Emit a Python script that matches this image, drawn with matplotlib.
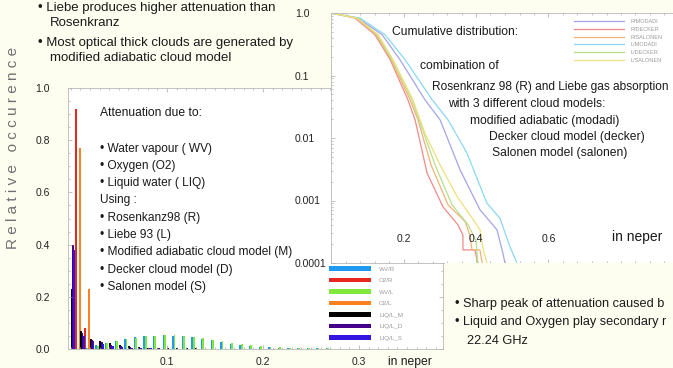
import matplotlib
matplotlib.use('Agg')
import matplotlib.pyplot as plt
import numpy as np
from matplotlib import font_manager as fm
from matplotlib.ticker import MultipleLocator, NullFormatter, FixedLocator, LogLocator
from matplotlib.patches import Rectangle

W, H = 673, 368
BG = '#fefef0'
fams = {f.name for f in fm.fontManager.ttflist}
NARROW = 'Liberation Sans Narrow' if 'Liberation Sans Narrow' in fams else 'Liberation Sans'
SANS = 'Liberation Sans'

# ---------------- histogram data (relative occurrence per 0.01 neper bin) ----------------
bin_width = 0.01
hist_names = ['WV/R', 'O2/R', 'WV/L', 'O2/L', 'LIQ/L_M', 'LIQ/L_D', 'LIQ/L_S']
hist_colors = ['#1e9bf0', '#e8281c', '#80e838', '#ff8020', '#000000', '#440088', '#3414e0']
slot_order = ['LIQ/L_M', 'LIQ/L_D', 'LIQ/L_S', 'O2/R', 'WV/R', 'WV/L', 'O2/L']

wv_r = [0.0, 0.004, 0.015, 0.024, 0.032, 0.040, 0.045, 0.048, 0.050, 0.052, 0.051, 0.049,
        0.046, 0.040, 0.033, 0.026, 0.021, 0.017, 0.013, 0.009, 0.007, 0.005, 0.004, 0.003,
        0.003, 0.002, 0.002, 0.0015, 0.001, 0.001, 0.0008, 0.0005, 0.0003]
o2_r = [0.92, 0.08]
wv_l = [0.0, 0.002, 0.012, 0.022, 0.030, 0.038, 0.044, 0.048, 0.050, 0.052, 0.052, 0.050,
        0.047, 0.042, 0.036, 0.029, 0.024, 0.019, 0.015, 0.011, 0.008, 0.006, 0.005, 0.004,
        0.003, 0.0025, 0.002, 0.0018, 0.0015, 0.0012, 0.001, 0.0008, 0.0006, 0.0005, 0.0003]
o2_l = [0.77, 0.23]
liq_m = [0.23, 0.07, 0.04, 0.03, 0.022, 0.015, 0.010, 0.007, 0.005, 0.004, 0.003, 0.003,
         0.002, 0.002, 0.0015, 0.001]
liq_d = [0.40, 0.06, 0.035, 0.025, 0.015, 0.010, 0.006, 0.004, 0.003, 0.002, 0.0015, 0.001]
liq_s = [0.38, 0.05, 0.030, 0.020, 0.012, 0.008, 0.005, 0.003, 0.002, 0.0015, 0.001]
hist_values = [wv_r, o2_r, wv_l, o2_l, liq_m, liq_d, liq_s]

hist_yticks = [0.0, 0.2, 0.4, 0.6, 0.8, 1.0]
hist_xticks = [0.1, 0.2, 0.3]

# ---------------- cumulative distribution data ----------------
cum_names = ['R/MODADI', 'R/DECKER', 'R/SALONEN', 'L/MODADI', 'L/DECKER', 'L/SALONEN']
cum_colors = ['#a4a4e8', '#f08a8a', '#f0b27a', '#8ad8f2', '#b8e08a', '#eee07a']
r_modadi_x = [0, 0.074, 0.141, 0.19, 0.259, 0.301, 0.356, 0.411, 0.458, 0.474, 0.48]
r_modadi_p = [1, 0.83, 0.45, 0.18, 0.041, 0.0195, 0.0031, 0.00071, 0.00034, 0.000145, 0.0001]
r_decker_x = [0, 0.066, 0.121, 0.163, 0.212, 0.232, 0.265, 0.309, 0.350, 0.364, 0.364, 0.397, 0.405]
r_decker_p = [1, 0.83, 0.45, 0.18, 0.041, 0.0195, 0.00275, 0.00079, 0.00041, 0.00028, 0.000162, 0.000162, 0.0001]
r_salonen_x = [0, 0.069, 0.124, 0.166, 0.218, 0.24, 0.276, 0.323, 0.37, 0.383, 0.389, 0.411, 0.417]
r_salonen_p = [1, 0.83, 0.45, 0.18, 0.041, 0.0195, 0.0037, 0.00085, 0.00046, 0.00028, 0.000162, 0.000162, 0.0001]
l_modadi_x = [0, 0.08, 0.149, 0.204, 0.279, 0.323, 0.375, 0.43, 0.466, 0.494, 0.513]
l_modadi_p = [1, 0.83, 0.45, 0.18, 0.041, 0.0195, 0.00575, 0.00091, 0.00052, 0.00018, 0.0001]
l_decker_x = [0, 0.072, 0.127, 0.168, 0.223, 0.248, 0.287, 0.334, 0.378, 0.40, 0.405]
l_decker_p = [1, 0.83, 0.45, 0.18, 0.041, 0.0162, 0.0037, 0.00085, 0.00041, 0.00023, 0.0001]
l_salonen_x = [0, 0.072, 0.13, 0.171, 0.226, 0.259, 0.301, 0.348, 0.383, 0.411, 0.419, 0.43]
l_salonen_p = [1, 0.83, 0.45, 0.18, 0.041, 0.012, 0.0037, 0.00115, 0.00059, 0.00034, 0.000174, 0.0001]
cum_x = [r_modadi_x, r_decker_x, r_salonen_x, l_modadi_x, l_decker_x, l_salonen_x]
cum_p = [r_modadi_p, r_decker_p, r_salonen_p, l_modadi_p, l_decker_p, l_salonen_p]

cum_yticks = [1.0, 0.1, 0.01, 0.001, 0.0001]
cum_ytick_labels = ['1.0', '0.1', '0.01', '0.001', '0.0001']
cum_xticks = [0.2, 0.4, 0.6]

# ---------------- figure ----------------
fig = plt.figure(figsize=(W / 100, H / 100), dpi=100, facecolor=BG)


def fx(px):
    return px / W


def fy(py):
    return 1 - py / H


AX_COL = '#b8b8b8'
TICK_COL = '#a8a8a8'

# histogram axes
axh = fig.add_axes([fx(68), fy(349), (443 - 68) / W, (349 - 88) / H])
axh.set_zorder(1)
axh.set_facecolor('white')
sw = bin_width / len(slot_order)
for name, vals, col in zip(hist_names, hist_values, hist_colors):
    k = np.arange(len(vals))
    x = k * bin_width + (slot_order.index(name) + 0.5) * sw
    axh.bar(x, vals, width=sw * 1.35, color=col, linewidth=0, label=name)
axh.set_xlim(-0.003, 0.3875)
axh.set_ylim(0, 1.0)
axh.set_yticks(hist_yticks)
axh.set_yticklabels([f'{v:.1f}' for v in hist_yticks])
axh.set_xticks(hist_xticks)
axh.set_xticklabels([f'{v:.1f}' for v in hist_xticks])
axh.yaxis.set_minor_locator(MultipleLocator(0.05))
axh.xaxis.set_minor_locator(MultipleLocator(0.01))
axh.tick_params(which='both', direction='in', color=TICK_COL, width=0.5, top=True, right=True)
axh.tick_params(which='major', length=3)
axh.tick_params(which='minor', length=1.5)
axh.tick_params(axis='y', pad=13, labelsize=7.5, labelcolor='#222222')
axh.tick_params(axis='x', pad=6, labelsize=7.5, labelcolor='#222222')
for lab in axh.get_xticklabels() + axh.get_yticklabels():
    lab.set_fontfamily(SANS)
for s in axh.spines.values():
    s.set_color(AX_COL)
    s.set_linewidth(0.6)
leg_h = axh.legend(loc='upper left', bbox_to_anchor=(fx(329), fy(266)), bbox_transform=fig.transFigure,
                   frameon=False, handlelength=6.7, handleheight=0.8,
                   handletextpad=1.3, labelspacing=0.95, borderpad=0, borderaxespad=0,
                   prop={'family': SANS, 'size': 4.5})
for t in leg_h.get_texts():
    t.set_color('#999999')

# cumulative axes
axc = fig.add_axes([fx(331), fy(263), 362.5 / W, 250 / H])
axc.set_zorder(2)
axc.set_facecolor('white')
for name, xs, ps, col in zip(cum_names, cum_x, cum_p, cum_colors):
    axc.plot(xs, ps, color=col, lw=0.9, label=name)
axc.set_yscale('log')
axc.set_ylim(1e-4, 1.0)
axc.set_xlim(0, 1.0)
axc.yaxis.set_major_locator(FixedLocator(cum_yticks))
axc.set_yticklabels(cum_ytick_labels)
axc.yaxis.set_minor_locator(LogLocator(base=10, subs=np.arange(2, 10)))
axc.yaxis.set_minor_formatter(NullFormatter())
axc.set_xticks(cum_xticks)
axc.xaxis.set_minor_locator(MultipleLocator(0.04))
axc.tick_params(which='both', direction='in', color=TICK_COL, width=0.5, top=True, right=True,
                labelbottom=False)
axc.tick_params(which='major', length=3)
axc.tick_params(which='minor', length=1.5)
axc.tick_params(axis='y', pad=26, labelsize=7.5, labelcolor='#222222')
for lab in axc.get_yticklabels():
    lab.set_horizontalalignment('left')
    lab.set_fontfamily(SANS)
for v in cum_xticks:
    axc.text(v, (263 - 239) / 250, f'{v:.1f}', transform=axc.get_xaxis_transform(),
             ha='center', va='center', fontsize=7.5, family=SANS, color='#222222')
for s in axc.spines.values():
    s.set_color(AX_COL)
    s.set_linewidth(0.6)
leg_c = axc.legend(loc='upper left', bbox_to_anchor=(fx(574), fy(19)), bbox_transform=fig.transFigure,
                   frameon=False, handlelength=9, handletextpad=1.25, labelspacing=0.5,
                   borderpad=0, borderaxespad=0, prop={'family': SANS, 'size': 4})
for t in leg_c.get_texts():
    t.set_color('#9a9a9a')

# cream box lower right
fig.add_artist(Rectangle((fx(445), 0), 1 - fx(445), fy(263), transform=fig.transFigure,
                         facecolor=BG, edgecolor='none', zorder=3))

TXT = '#1a1a1a'


def ftext(px, py, s, size=9.5, ha='left', family=NARROW, color=TXT, **kw):
    fig.text(fx(px), fy(py), s, ha=ha, va='center', fontsize=size, family=family,
             color=color, zorder=5, **kw)


# top-left notes
ftext(38, 8, '• Liebe produces higher attenuation than')
ftext(50, 23, 'Rosenkranz')
ftext(38, 43, '• Most optical thick clouds are generated by')
ftext(50, 58, 'modified adiabatic cloud model')

# y label
fig.text(fx(13), fy(148), 'R e l a t i v e   o c c u r e n c e', rotation=90, ha='center',
         va='center', fontsize=11, family=SANS, color='#707070', zorder=5)

# histogram inner text
ftext(100, 113, 'Attenuation due to:', size=8.7)
hist_lines = ['• Water vapour ( WV)', '• Oxygen (O2)', '• Liquid water ( LIQ)', 'Using :',
              '• Rosenkanz98 (R)', '• Liebe 93 (L)', '• Modified adiabatic cloud model (M)',
              '• Decker cloud model (D)', '• Salonen model (S)']
hist_line_y = [149, 166, 183, 200, 218, 235, 252, 270, 287]
for s, yy in zip(hist_lines, hist_line_y):
    ftext(100, yy, s, size=8.6)

ftext(410, 362, 'in neper', size=8.7, ha='center')

# cumulative text
ftext(392, 32, 'Cumulative distribution:', size=8.7)
ftext(420, 66, 'combination of', size=8.7)
ftext(432, 87, 'Rosenkranz 98 (R) and Liebe gas absorption', size=8.6)
ftext(448, 104, 'with 3 different cloud models:', size=8.7)
ftext(470, 121, 'modified adiabatic (modadi)', size=8.7)
ftext(489, 137, 'Decker cloud model (decker)', size=8.7)
ftext(492, 153, 'Salonen model (salonen)', size=8.7)
ftext(637, 237, 'in neper', size=10, ha='center')

# lower-right notes
ftext(455, 304, '• Sharp peak of attenuation caused b', size=9.2)
ftext(455, 322, '• Liquid and Oxygen play secondary r', size=9.2)
ftext(467, 341, '22.24 GHz', size=9.2)

fig.savefig('out.png', dpi=100, facecolor=BG)
